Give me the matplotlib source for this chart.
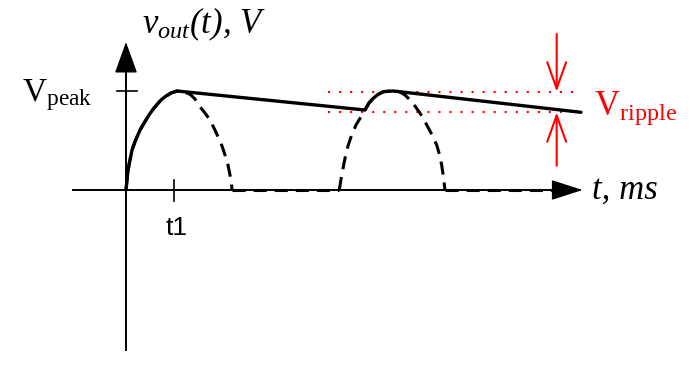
import matplotlib
matplotlib.use('Agg')
import matplotlib.pyplot as plt

plt.rcParams['mathtext.fontset'] = 'custom'
plt.rcParams['mathtext.rm'] = 'Liberation Serif'
plt.rcParams['mathtext.it'] = 'Liberation Serif:italic'

# time in ms, voltage in V
v_peak = 10.0
t1 = 4.5

# first rectified half wave (dashed), also the charging part of the solid curve
hump1_t = [0, 0.14, 0.28, 0.57, 0.85, 1.32, 1.60, 2.17, 2.64, 3.30, 3.68, 4.25, 4.81,
           5.47, 6.04, 6.51, 6.98, 7.45, 7.92, 8.30, 8.68, 9.06, 9.34, 9.62, 9.81, 9.95, 10.0]
hump1_v = [0, 1.52, 2.53, 4.04, 4.88, 6.06, 6.57, 7.58, 8.28, 9.09, 9.42, 9.80, 10.0,
           9.90, 9.67, 9.19, 8.41, 7.78, 7.07, 6.26, 5.38, 4.44, 3.54, 2.53, 1.52, 0.71, 0]

# second half wave
hump2_t = [20.12, 20.35, 20.66, 20.94, 21.29, 21.70, 22.08, 22.55, 22.92, 23.33, 23.77, 24.27, 24.72,
           25.22, 25.75, 26.32, 26.89, 27.42, 27.92, 28.37, 28.87, 29.31, 29.58, 29.78, 29.95, 30.09]
hump2_v = [0, 1.52, 3.20, 4.44, 5.56, 6.57, 7.24, 8.08, 8.79, 9.26, 9.65, 9.93, 9.97,
           10.0, 9.95, 9.60, 8.99, 8.25, 7.47, 6.57, 5.56, 4.55, 3.54, 2.53, 1.31, 0]

# zero stretches of the rectified wave
zero_t = [[10.0, 20.12], [30.09, 40.5]]

# capacitor discharge end point
t_end, v_end = 42.92, 7.85

# ripple band
ripple_top, ripple_bot = 9.93, 7.85
ripple_t = [19.06, 43.02]
t_arrow = 40.63

fig = plt.figure(figsize=(6.92, 3.65), dpi=100)
ax = fig.add_axes([0, 0, 1, 1])
ax.set_xlim(-11.887, 53.396)
ax.set_ylim(-17.677, 19.192)
ax.axis('off')

# axes with arrows
ax.plot([-5.0, 40.5], [0, 0], color='k', lw=1.4, zorder=2)
ax.annotate('', xy=(43.08, 0), xytext=(40.0, 0),
            arrowprops=dict(arrowstyle='-|>,head_length=1.0,head_width=0.32', mutation_scale=20,
                            color='k', lw=1.0, shrinkA=0, shrinkB=0))
ax.plot([0, 0], [-16.16, 12.5], color='k', lw=1.4, zorder=2)
ax.annotate('', xy=(0, 14.95), xytext=(0, 11.5),
            arrowprops=dict(arrowstyle='-|>,head_length=1.0,head_width=0.36', mutation_scale=20,
                            color='k', lw=1.0, shrinkA=0, shrinkB=0))

# ticks
ax.plot([-0.85, 1.04], [v_peak, v_peak], color='k', lw=1.2)
ax.plot([t1, t1], [1.01, -1.11], color='k', lw=1.2)

# rectified wave (dashed)
dash = (0, (4.3, 2.6))
ax.plot(hump1_t, hump1_v, color='k', lw=2.2, ls=dash, zorder=3)
ax.plot(hump2_t, hump2_v, color='k', lw=2.2, ls=dash, zorder=3)
for seg in zero_t:
    ax.plot(seg, [0, 0], color='k', lw=2.2, ls=dash, zorder=3)

# filtered output (solid)
i1 = hump1_v.index(max(hump1_v))
i2s = 7
i2p = hump2_v.index(max(hump2_v))
sol_t = hump1_t[:i1 + 1] + hump2_t[i2s:i2p + 1] + [t_end]
sol_v = hump1_v[:i1 + 1] + hump2_v[i2s:i2p + 1] + [v_end]
ax.plot(sol_t, sol_v, color='k', lw=2.4, solid_capstyle='round', solid_joinstyle='round', zorder=4)

# ripple markers
red = '#ff0000'
for lvl in (ripple_top, ripple_bot):
    ax.plot(ripple_t, [lvl, lvl], color=red, lw=1.5, ls=(0, (1, 4.3)), zorder=1)
ax.annotate('', xy=(t_arrow, ripple_top), xytext=(t_arrow, 15.76),
            arrowprops=dict(arrowstyle='->,head_length=0.95,head_width=0.34', mutation_scale=20,
                            color=red, lw=1.5, shrinkA=0, shrinkB=0))
ax.annotate('', xy=(t_arrow, ripple_bot), xytext=(t_arrow, 2.45),
            arrowprops=dict(arrowstyle='->,head_length=0.95,head_width=0.34', mutation_scale=20,
                            color=red, lw=1.5, shrinkA=0, shrinkB=0))

# labels
serif = 'Liberation Serif'
ax.text(-9.81, 9.0, r'$\mathrm{V}_{\mathrm{peak}}$', fontsize=24, color='k', ha='left', va='baseline')
ax.text(1.51, 15.86, r'$v_{out}$(t), V', fontsize=25, family=serif, style='italic', color='k',
        ha='left', va='baseline')
ax.text(43.96, -0.91, 't, ms', fontsize=25, family=serif, style='italic', color='k',
        ha='left', va='baseline')
ax.text(44.15, 7.58, r'$\mathrm{V}_{\mathrm{ripple}}$', fontsize=25, color=red, ha='left', va='baseline')
ax.text(4.8, -4.55, 't1', fontsize=19, family='Liberation Sans', color='k', ha='center', va='baseline')

fig.savefig('out.png', dpi=100)
